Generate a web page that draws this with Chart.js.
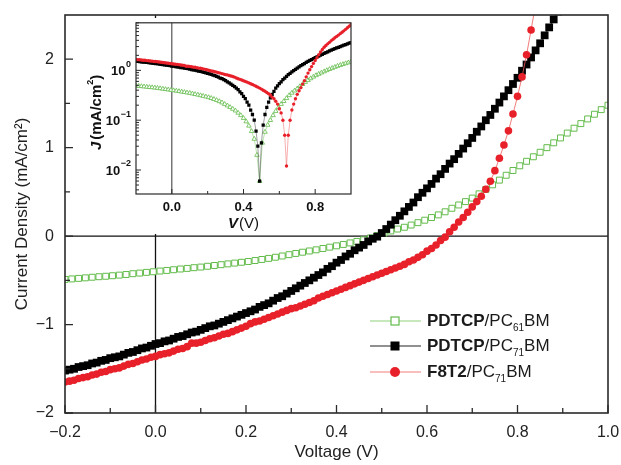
<!DOCTYPE html>
<html>
<head>
<meta charset="utf-8">
<script src="https://cdn.jsdelivr.net/npm/chart.js@4.4.1/dist/chart.umd.min.js"></script>
<style>
    html, body { margin: 0; padding: 0; background: #fff; }
    #wrap { position: relative; width: 621px; height: 465px; }
    #mainChart { position: absolute; left: 0; top: 0; }
    #insetChart { position: absolute; left: 80px; top: 18px; }
</style>
</head>
<body>
<div id="wrap">
    <canvas id="mainChart" width="621" height="465"></canvas>
    <canvas id="insetChart" width="282" height="216"></canvas>
</div>
<script>
// Voltage grid (V) for the PC71BM devices
const voltage = [
    -0.20, -0.19, -0.18, -0.17, -0.16, -0.15, -0.14, -0.13, -0.12, -0.11,
    -0.10, -0.09, -0.08, -0.07, -0.06, -0.05, -0.04, -0.03, -0.02, -0.01,
    0.00, 0.01, 0.02, 0.03, 0.04, 0.05, 0.06, 0.07, 0.08, 0.09,
    0.10, 0.11, 0.12, 0.13, 0.14, 0.15, 0.16, 0.17, 0.18, 0.19,
    0.20, 0.21, 0.22, 0.23, 0.24, 0.25, 0.26, 0.27, 0.28, 0.29,
    0.30, 0.31, 0.32, 0.33, 0.34, 0.35, 0.36, 0.37, 0.38, 0.39,
    0.40, 0.41, 0.42, 0.43, 0.44, 0.45, 0.46, 0.47, 0.48, 0.49,
    0.50, 0.51, 0.52, 0.53, 0.54, 0.55, 0.56, 0.57, 0.58, 0.59,
    0.60, 0.61, 0.62, 0.63, 0.64, 0.65, 0.66, 0.67, 0.68, 0.69,
    0.70, 0.71, 0.72, 0.73, 0.74, 0.75, 0.76, 0.77, 0.78, 0.79,
    0.80, 0.81, 0.82, 0.83, 0.84, 0.85, 0.86, 0.87, 0.88, 0.89,
    0.90, 0.91, 0.92, 0.93, 0.94, 0.95, 0.96, 0.97, 0.98, 0.99,
    1.00
];

// PDTCP/PC71BM current density (mA/cm2)
const jPdtcpPc71 = [
    -1.52, -1.51, -1.50, -1.48, -1.47, -1.46, -1.44, -1.43, -1.41, -1.40,
    -1.38, -1.37, -1.36, -1.34, -1.32, -1.31, -1.29, -1.27, -1.26, -1.24,
    -1.22, -1.21, -1.19, -1.18, -1.16, -1.14, -1.13, -1.11, -1.09, -1.08,
    -1.06, -1.04, -1.02, -1.01, -0.99, -0.97, -0.95, -0.93, -0.91, -0.89,
    -0.87, -0.85, -0.83, -0.80, -0.78, -0.76, -0.73, -0.70, -0.68, -0.65,
    -0.62, -0.59, -0.56, -0.53, -0.50, -0.47, -0.44, -0.41, -0.37, -0.34,
    -0.30, -0.27, -0.23, -0.20, -0.16, -0.13, -0.10, -0.06, -0.03, -0.006,
    0.035, 0.08, 0.13, 0.18, 0.23, 0.28, 0.33, 0.38, 0.44, 0.49,
    0.54, 0.59, 0.65, 0.70, 0.76, 0.82, 0.87, 0.93, 0.99, 1.05,
    1.11, 1.18, 1.24, 1.31, 1.37, 1.44, 1.51, 1.58, 1.65, 1.72,
    1.79, 1.87, 1.94, 2.02, 2.10, 2.18, 2.27, 2.36, 2.45, 2.54,
    2.63, 2.72, 2.81, 2.90, 3.00, 3.10, 3.20, 3.30, 3.40, 3.50,
    3.60
];

// F8T2/PC71BM current density (mA/cm2)
const jF8t2Pc71 = [
    -1.65, -1.64, -1.63, -1.61, -1.60, -1.59, -1.57, -1.56, -1.54, -1.53,
    -1.51, -1.50, -1.49, -1.47, -1.45, -1.44, -1.42, -1.40, -1.39, -1.37,
    -1.36, -1.34, -1.33, -1.32, -1.30, -1.28, -1.27, -1.25, -1.21, -1.21,
    -1.20, -1.18, -1.16, -1.15, -1.13, -1.11, -1.10, -1.08, -1.06, -1.04,
    -1.02, -0.99, -0.97, -0.96, -0.94, -0.92, -0.90, -0.88, -0.86, -0.84,
    -0.82, -0.81, -0.79, -0.77, -0.75, -0.73, -0.70, -0.68, -0.66, -0.64,
    -0.62, -0.60, -0.58, -0.56, -0.54, -0.52, -0.50, -0.48, -0.46, -0.44,
    -0.42, -0.40, -0.38, -0.36, -0.34, -0.32, -0.29, -0.27, -0.24, -0.21,
    -0.17, -0.14, -0.10, -0.05, -0.012, 0.05, 0.10, 0.16, 0.21, 0.27,
    0.33, 0.39, 0.45, 0.53, 0.62, 0.74, 0.88, 1.03, 1.19, 1.38,
    1.58, 1.80, 2.05, 2.33, 2.62, 2.90, 3.15, 3.40, 3.65, 3.95,
    4.20, 4.50, 4.80, 5.10, 5.45, 5.80, 6.20, 6.65, 7.15, 7.70,
    8.30
];

// Voltage grid (V) for the PC61BM device
const voltagePc61 = [
    -0.200, -0.185, -0.170, -0.155, -0.140, -0.125, -0.110, -0.095, -0.080, -0.065,
    -0.050, -0.035, -0.020, -0.005, 0.010, 0.025, 0.040, 0.055, 0.070, 0.085,
    0.100, 0.115, 0.130, 0.145, 0.160, 0.175, 0.190, 0.205, 0.220, 0.235,
    0.250, 0.265, 0.280, 0.295, 0.310, 0.325, 0.340, 0.355, 0.370, 0.385,
    0.400, 0.415, 0.430, 0.445, 0.460, 0.475, 0.490, 0.505, 0.520, 0.535,
    0.550, 0.565, 0.580, 0.595, 0.610, 0.625, 0.640, 0.655, 0.670, 0.685,
    0.700, 0.715, 0.730, 0.745, 0.760, 0.775, 0.790, 0.805, 0.820, 0.835,
    0.850, 0.865, 0.880, 0.895, 0.910, 0.925, 0.940, 0.955, 0.970, 0.985,
    1.000
];

// PDTCP/PC61BM current density (mA/cm2)
const jPdtcpPc61 = [
    -0.490, -0.484, -0.478, -0.472, -0.465, -0.459, -0.454, -0.448, -0.441, -0.434,
    -0.425, -0.418, -0.410, -0.403, -0.395, -0.388, -0.380, -0.372, -0.365, -0.357,
    -0.350, -0.341, -0.332, -0.323, -0.314, -0.305, -0.296, -0.287, -0.276, -0.264,
    -0.252, -0.239, -0.225, -0.210, -0.196, -0.182, -0.168, -0.155, -0.140, -0.125,
    -0.110, -0.094, -0.077, -0.060, -0.042, -0.020, 0.006, 0.035, 0.058, 0.080,
    0.100, 0.125, 0.152, 0.180, 0.210, 0.240, 0.275, 0.315, 0.352, 0.390,
    0.430, 0.478, 0.528, 0.580, 0.633, 0.688, 0.742, 0.795, 0.846, 0.897,
    0.948, 1.000, 1.055, 1.110, 1.165, 1.220, 1.272, 1.325, 1.378, 1.430,
    1.480
];

// Axis ticks
const xTicks = [-0.2, 0, 0.2, 0.4, 0.6, 0.8, 1.0];
const xMinorTicks = [-0.1, 0.1, 0.3, 0.5, 0.7, 0.9];
const yTicks = [-2, -1, 0, 1, 2];
const yMinorTicks = [-1.5, -0.5, 0.5, 1.5];
const insetXTicks = [0, 0.4, 0.8];
const insetXMinorTicks = [0.2, 0.6];
const insetYTicks = [0.01, 0.1, 1];
const insetYExponents = ['\u22122', '\u22121', '0'];

const FONT = '"Liberation Sans", Arial, sans-serif';
const GREEN = '#62bb4a';
const RED = '#e8202a';

const pairs = (xs, ys) => xs.map((v, i) => ({ x: v, y: ys[i] }));
const absPairs = (xs, ys) => xs.map((v, i) => ({ x: v, y: Math.abs(ys[i]) }));
const minus = s => String(s).replace('-', '\u2212');
const noEdgePadding = s => { s.paddingLeft = 0; s.paddingRight = 0; s.paddingTop = 0; s.paddingBottom = 0; };

/**
 * Frame, inward ticks, zero lines and legend of the main plot
 */
const mainDecor = {
    id: 'mainDecor',
    beforeDatasetsDraw(chart) {
        const { ctx, chartArea: a, scales: { x, y } } = chart;
        ctx.save();
        ctx.strokeStyle = '#111';
        ctx.lineWidth = 1.3;
        ctx.beginPath();
        const y0 = y.getPixelForValue(0);
        ctx.moveTo(a.left, y0);
        ctx.lineTo(a.right, y0);
        const x0 = x.getPixelForValue(0);
        ctx.moveTo(x0, a.top);
        ctx.lineTo(x0, a.bottom);
        ctx.stroke();
        ctx.restore();
    },
    afterDatasetsDraw(chart) {
        const { ctx, chartArea: a, scales: { x, y } } = chart;
        ctx.save();
        ctx.strokeStyle = '#2a2a2a';
        ctx.lineWidth = 1.6;
        ctx.strokeRect(a.left, a.top, a.right - a.left, a.bottom - a.top);
        ctx.lineWidth = 1.3;
        ctx.beginPath();
        xTicks.forEach(v => { const p = x.getPixelForValue(v); ctx.moveTo(p, a.bottom); ctx.lineTo(p, a.bottom - 8); });
        xMinorTicks.forEach(v => { const p = x.getPixelForValue(v); ctx.moveTo(p, a.bottom); ctx.lineTo(p, a.bottom - 5); });
        yTicks.forEach(v => { const p = y.getPixelForValue(v); ctx.moveTo(a.left, p); ctx.lineTo(a.left + 8, p); });
        yMinorTicks.forEach(v => { const p = y.getPixelForValue(v); ctx.moveTo(a.left, p); ctx.lineTo(a.left + 5, p); });
        ctx.stroke();
        ctx.restore();
    },
    afterDraw(chart) {
        const { ctx } = chart;
        const rows = [
            { y: 321, line: '#8ed27a', kind: 'openSquare', bold: 'PDTCP', sub: '61' },
            { y: 346, line: '#222', kind: 'square', bold: 'PDTCP', sub: '71' },
            { y: 372, line: '#f27c7c', kind: 'circle', bold: 'F8T2', sub: '71' }
        ];
        ctx.save();
        rows.forEach(r => {
            ctx.strokeStyle = r.line;
            ctx.lineWidth = 1.2;
            ctx.beginPath();
            ctx.moveTo(370, r.y);
            ctx.lineTo(421, r.y);
            ctx.stroke();
            if (r.kind === 'openSquare') {
                ctx.fillStyle = '#fff';
                ctx.fillRect(391, r.y - 4, 8, 8);
                ctx.strokeStyle = GREEN;
                ctx.strokeRect(391, r.y - 4, 8, 8);
            } else if (r.kind === 'square') {
                ctx.fillStyle = '#000';
                ctx.fillRect(390.5, r.y - 4.5, 9, 9);
            } else {
                ctx.fillStyle = RED;
                ctx.beginPath();
                ctx.arc(395, r.y, 5, 0, Math.PI * 2);
                ctx.fill();
            }
            let tx = 427;
            ctx.fillStyle = '#1a1a1a';
            ctx.textBaseline = 'middle';
            ctx.textAlign = 'left';
            ctx.font = 'bold 17px ' + FONT;
            ctx.fillText(r.bold, tx, r.y);
            tx += ctx.measureText(r.bold).width;
            ctx.font = '17px ' + FONT;
            ctx.fillText('/PC', tx, r.y);
            tx += ctx.measureText('/PC').width;
            ctx.font = '10px ' + FONT;
            ctx.fillText(r.sub, tx, r.y + 7);
            tx += ctx.measureText(r.sub).width;
            ctx.font = '17px ' + FONT;
            ctx.fillText('BM', tx, r.y);
        });
        ctx.restore();
    }
};

/**
 * White backing, frame, ticks and labels of the log inset
 */
const insetDecor = {
    id: 'insetDecor',
    beforeDraw(chart) {
        const { ctx, width, height } = chart;
        ctx.save();
        ctx.fillStyle = '#fff';
        ctx.fillRect(0, 0, width, height);
        ctx.restore();
    },
    beforeDatasetsDraw(chart) {
        const { ctx, chartArea: a, scales: { x } } = chart;
        ctx.save();
        ctx.strokeStyle = '#333';
        ctx.lineWidth = 1;
        ctx.beginPath();
        const x0 = x.getPixelForValue(0);
        ctx.moveTo(x0, a.top);
        ctx.lineTo(x0, a.bottom);
        ctx.stroke();
        ctx.restore();
    },
    afterDatasetsDraw(chart) {
        const { ctx, chartArea: a, scales: { x, y } } = chart;
        ctx.save();
        ctx.strokeStyle = '#2a2a2a';
        ctx.lineWidth = 1.2;
        ctx.strokeRect(a.left, a.top, a.right - a.left, a.bottom - a.top);
        ctx.lineWidth = 1;
        ctx.beginPath();
        insetXTicks.forEach(v => { const p = x.getPixelForValue(v); ctx.moveTo(p, a.bottom); ctx.lineTo(p, a.bottom - 5); });
        insetXMinorTicks.forEach(v => { const p = x.getPixelForValue(v); ctx.moveTo(p, a.bottom); ctx.lineTo(p, a.bottom - 3); });
        insetYTicks.forEach(v => { const p = y.getPixelForValue(v); ctx.moveTo(a.left, p); ctx.lineTo(a.left + 5, p); });
        [0.001, 0.01, 0.1, 1].forEach(d => {
            for (let m = 2; m <= 9; m++) {
                const v = m * d;
                if (v < y.min || v > y.max) continue;
                const p = y.getPixelForValue(v);
                ctx.moveTo(a.left, p);
                ctx.lineTo(a.left + 3, p);
            }
        });
        ctx.stroke();

        ctx.fillStyle = '#111';
        ctx.textBaseline = 'middle';
        ctx.textAlign = 'center';
        ctx.font = 'bold 13px ' + FONT;
        insetXTicks.forEach(v => ctx.fillText(v.toFixed(1), x.getPixelForValue(v), a.bottom + 13));

        // decade labels with superscript exponents
        insetYTicks.forEach((v, i) => {
            const p = y.getPixelForValue(v);
            const right = a.left - 5;
            ctx.textAlign = 'right';
            ctx.font = 'bold 9px ' + FONT;
            const sw = ctx.measureText(insetYExponents[i]).width;
            ctx.fillText(insetYExponents[i], right, p - 6);
            ctx.font = 'bold 13px ' + FONT;
            ctx.fillText('10', right - sw - 0.5, p + 1);
        });

        // x title: V (V)
        ctx.textAlign = 'left';
        ctx.font = 'bold italic 15px ' + FONT;
        const vw = ctx.measureText('V').width;
        ctx.font = '15px ' + FONT;
        const pw = ctx.measureText('(V)').width;
        let tx = (a.left + a.right) / 2 - (vw + pw + 1) / 2;
        ctx.font = 'bold italic 15px ' + FONT;
        ctx.fillText('V', tx, a.bottom + 30);
        ctx.font = '15px ' + FONT;
        ctx.fillText('(V)', tx + vw + 1, a.bottom + 30);

        // y title: J (mA/cm2)
        ctx.translate(17, (a.top + a.bottom) / 2 + 4);
        ctx.rotate(-Math.PI / 2);
        const parts = [
            { t: 'J', f: 'bold italic 15px ', dy: 0 },
            { t: '(mA/cm', f: 'bold 15px ', dy: 0 },
            { t: '2', f: 'bold 9px ', dy: -6 },
            { t: ')', f: 'bold 15px ', dy: 0 }
        ];
        let total = 0;
        parts.forEach(p => { ctx.font = p.f + FONT; total += ctx.measureText(p.t).width + (p.t === 'J' ? 2 : 0); });
        let cx = -total / 2;
        parts.forEach(p => {
            ctx.font = p.f + FONT;
            ctx.fillText(p.t, cx, p.dy);
            cx += ctx.measureText(p.t).width + (p.t === 'J' ? 2 : 0);
        });
        ctx.restore();
    }
};

function createMainChart() {
    const ctx = document.getElementById('mainChart');
    return new Chart(ctx, {
        type: 'scatter',
        data: {
            datasets: [
                {
                    label: 'F8T2/PC71BM',
                    data: pairs(voltage, jF8t2Pc71),
                    showLine: true,
                    borderColor: 'rgba(240, 90, 90, 0.8)',
                    borderWidth: 1,
                    pointStyle: 'circle',
                    pointRadius: 3.8,
                    pointBackgroundColor: RED,
                    pointBorderWidth: 0
                },
                {
                    label: 'PDTCP/PC71BM',
                    data: pairs(voltage, jPdtcpPc71),
                    showLine: true,
                    borderColor: '#444',
                    borderWidth: 1,
                    pointStyle: 'rect',
                    pointRadius: 5.5,
                    pointBackgroundColor: '#000',
                    pointBorderWidth: 0
                },
                {
                    label: 'PDTCP/PC61BM',
                    data: pairs(voltagePc61, jPdtcpPc61),
                    showLine: true,
                    borderColor: 'rgba(130, 205, 110, 0.8)',
                    borderWidth: 1,
                    pointStyle: 'rect',
                    pointRadius: 4.2,
                    pointBackgroundColor: '#fff',
                    pointBorderColor: GREEN,
                    pointBorderWidth: 1
                }
            ]
        },
        options: {
            responsive: false,
            animation: false,
            events: [],
            layout: { padding: { top: 15, right: 13, left: 0, bottom: 0 } },
            plugins: { legend: { display: false }, tooltip: { enabled: false } },
            scales: {
                x: {
                    type: 'linear',
                    min: -0.2,
                    max: 1.0,
                    afterBuildTicks: s => { s.ticks = xTicks.map(v => ({ value: v })); },
                    afterFit: s => { s.height = 52; noEdgePadding(s); },
                    grid: { display: false, drawTicks: false },
                    border: { display: false },
                    ticks: {
                        padding: 10,
                        color: '#222',
                        maxRotation: 0,
                        font: { family: FONT, size: 16 },
                        callback: v => minus(v.toFixed(1))
                    },
                    title: {
                        display: true,
                        text: 'Voltage (V)',
                        color: '#222',
                        font: { family: FONT, size: 17 },
                        padding: { top: 0, bottom: 2 }
                    }
                },
                y: {
                    type: 'linear',
                    min: -2,
                    max: 2.5,
                    afterBuildTicks: s => { s.ticks = yTicks.map(v => ({ value: v })); },
                    afterFit: s => { s.width = 65; noEdgePadding(s); },
                    grid: { display: false, drawTicks: false },
                    border: { display: false },
                    ticks: {
                        padding: 11,
                        color: '#222',
                        font: { family: FONT, size: 16 },
                        callback: v => minus(v)
                    },
                    title: {
                        display: true,
                        text: 'Current Density (mA/cm\u00b2)',
                        color: '#222',
                        font: { family: FONT, size: 17 },
                        padding: { top: 12, bottom: 0 }
                    }
                }
            }
        },
        plugins: [mainDecor]
    });
}

function createInsetChart() {
    const ctx = document.getElementById('insetChart');
    return new Chart(ctx, {
        type: 'scatter',
        data: {
            datasets: [
                {
                    label: 'F8T2/PC71BM',
                    data: absPairs(voltage, jF8t2Pc71),
                    showLine: true,
                    borderColor: 'rgba(240, 110, 110, 0.7)',
                    borderWidth: 0.8,
                    pointRadius: 1.7,
                    pointBackgroundColor: RED,
                    pointBorderWidth: 0
                },
                {
                    label: 'PDTCP/PC71BM',
                    data: absPairs(voltage, jPdtcpPc71),
                    showLine: true,
                    borderColor: 'rgba(80, 80, 80, 0.7)',
                    borderWidth: 0.8,
                    pointStyle: 'rect',
                    pointRadius: 2.3,
                    pointBackgroundColor: '#000',
                    pointBorderWidth: 0
                },
                {
                    label: 'PDTCP/PC61BM',
                    data: absPairs(voltagePc61, jPdtcpPc61),
                    showLine: true,
                    borderColor: 'rgba(130, 205, 110, 0.7)',
                    borderWidth: 0.8,
                    pointStyle: 'triangle',
                    pointRadius: 2.6,
                    pointBackgroundColor: '#fff',
                    pointBorderColor: GREEN,
                    pointBorderWidth: 0.8
                }
            ]
        },
        options: {
            responsive: false,
            animation: false,
            events: [],
            layout: { padding: { top: 3, right: 11, left: 56, bottom: 40 } },
            plugins: { legend: { display: false }, tooltip: { enabled: false } },
            scales: {
                x: { type: 'linear', min: -0.2, max: 1.0, display: false },
                y: { type: 'logarithmic', min: 0.0033, max: 9, display: false }
            }
        },
        plugins: [insetDecor]
    });
}

createMainChart();
createInsetChart();
</script>
</body>
</html>
